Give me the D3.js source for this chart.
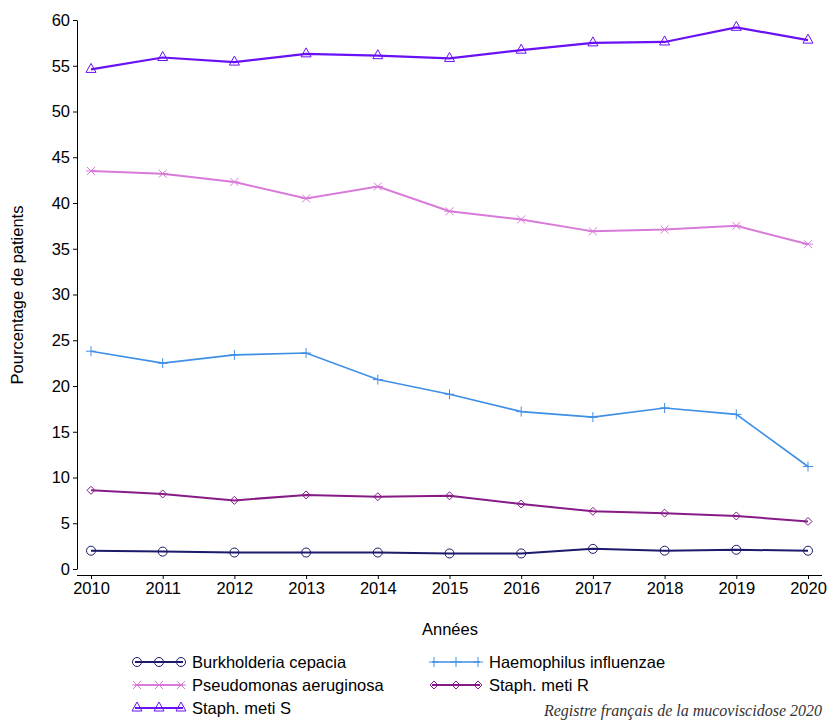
<!DOCTYPE html><html><head><meta charset="utf-8"><script src="https://cdn.jsdelivr.net/npm/d3@7"></script>
<style>body{margin:0;background:#fff}text{font-family:"Liberation Sans",Arial,sans-serif}text.cite{font-family:"Liberation Serif",serif}</style></head><body><svg width="830" height="722"></svg>
<script>
const years=[2010,2011,2012,2013,2014,2015,2016,2017,2018,2019,2020];
const burk=[2.0,1.9,1.8,1.8,1.8,1.7,1.7,2.2,2.0,2.1,2.0];
const haemo=[23.8,22.5,23.4,23.6,20.7,19.1,17.2,16.6,17.6,16.9,11.2];
const pseudo=[43.5,43.2,42.3,40.5,41.8,39.1,38.2,36.9,37.1,37.5,35.5];
const staphR=[8.6,8.2,7.5,8.1,7.9,8.0,7.1,6.3,6.1,5.8,5.2];
const staphS=[54.6,55.9,55.4,56.3,56.1,55.8,56.7,57.5,57.6,59.2,57.8];
const yTicks=[0,5,10,15,20,25,30,35,40,45,50,55,60];
const series=[
 {name:"Burkholderia cepacia",v:burk,c:"#1c1a6b",m:"circle",w:2},
 {name:"Haemophilus influenzae",v:haemo,c:"#3f8fe6",m:"plus",w:1.6},
 {name:"Pseudomonas aeruginosa",v:pseudo,c:"#d97ad9",m:"star",w:2},
 {name:"Staph. meti R",v:staphR,c:"#861a86",m:"diamond",w:2},
 {name:"Staph. meti S",v:staphS,c:"#6a10f5",m:"triangle",w:2.2}];
const svg=d3.select("svg");
const x=d3.scaleLinear().domain([2010,2020]).range([91,808]);
const y=d3.scaleLinear().domain([0,60]).range([569,20]);
svg.append("g").attr("transform","translate(77,0)").call(d3.axisLeft(y).tickValues(yTicks).tickSize(4).tickSizeOuter(0))
 .call(g=>g.selectAll("text").attr("font-size",16.5).attr("fill","#000"));
svg.append("g").attr("transform","translate(0,575)").call(d3.axisBottom(x).tickValues(years).tickFormat(d3.format("d")).tickSize(4).tickSizeOuter(0))
 .call(g=>{g.select(".domain").attr("d","M77,0.5H822");g.selectAll("text").attr("font-size",16.5).attr("fill","#000");});
svg.append("text").attr("x",450).attr("y",635).attr("text-anchor","middle").attr("font-size",16.5).text("Années");
svg.append("text").attr("transform","translate(23,295) rotate(-90)").attr("text-anchor","middle").attr("font-size",16.5).text("Pourcentage de patients");
function marker(g,type,cx,cy,c){
 if(type==="circle")g.append("circle").attr("cx",cx).attr("cy",cy).attr("r",4.5).attr("fill","none").attr("stroke",c);
 else if(type==="plus")g.append("path").attr("d",`M${cx-5},${cy}H${cx+5}M${cx},${cy-5}V${cy+5}`).attr("stroke",c);
 else if(type==="star")g.append("path").attr("d",`M${cx-5},${cy}H${cx+5}M${cx-4},${cy-4}L${cx+4},${cy+4}M${cx-4},${cy+4}L${cx+4},${cy-4}`).attr("stroke",c);
 else if(type==="diamond")g.append("path").attr("d",`M${cx},${cy-4}L${cx+4},${cy}L${cx},${cy+4}L${cx-4},${cy}Z`).attr("fill","none").attr("stroke",c);
 else g.append("path").attr("d",`M${cx},${cy-6}L${cx+5},${cy+3}L${cx-5},${cy+3}Z`).attr("fill","none").attr("stroke",c);
}
const line=d3.line().x((d,i)=>x(years[i])).y(d=>y(d));
series.forEach(s=>{
 svg.append("path").attr("d",line(s.v)).attr("fill","none").attr("stroke",s.c).attr("stroke-width",s.w);
 const g=svg.append("g");
 s.v.forEach((d,i)=>marker(g,s.m,x(years[i]),y(d),s.c));
});
const leg=[[0,135,665],[1,432,665],[2,135,688],[3,432,688],[4,135,711]];
leg.forEach(([i,lx,ly])=>{
 const s=series[i];
 svg.append("line").attr("x1",lx).attr("x2",lx+48).attr("y1",ly-3).attr("y2",ly-3).attr("stroke",s.c).attr("stroke-width",s.w);
 const g=svg.append("g");
 [lx+2,lx+24,lx+46].forEach(cx=>marker(g,s.m,cx,ly-3,s.c));
 svg.append("text").attr("x",lx+57).attr("y",ly+3).attr("font-size",16.5).text(s.name);
});
svg.append("text").attr("class","cite").attr("x",822).attr("y",716).attr("text-anchor","end").attr("font-size",16).attr("font-style","italic").attr("fill","#333").text("Registre français de la mucoviscidose 2020");
</script></body></html>
